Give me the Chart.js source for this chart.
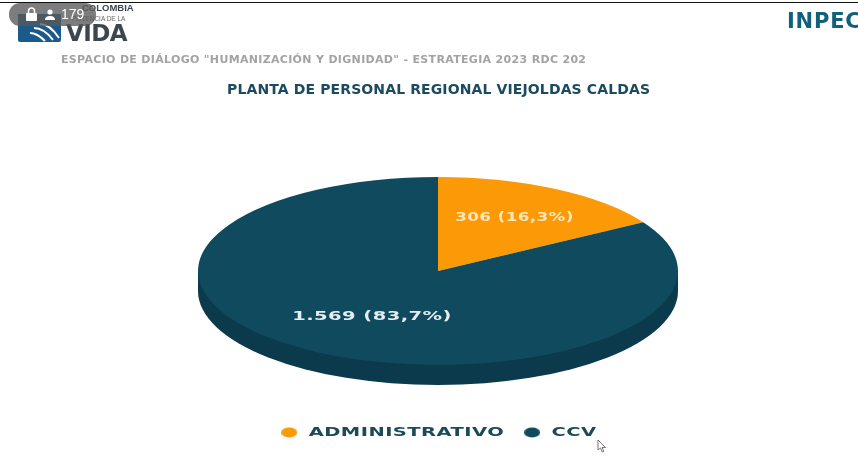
<!DOCTYPE html>
<html lang="es">
<head>
    <meta charset="UTF-8">
    <title>Planta de personal regional Viejo Caldas</title>
    <script src="https://cdn.jsdelivr.net/npm/chart.js"></script>
    <style>
        html, body { margin: 0; padding: 0; background: #fff; }
        #page { position: relative; width: 858px; height: 460px; overflow: hidden; font-family: "DejaVu Sans", sans-serif; }
        #page canvas { position: absolute; left: 0; top: 0; }
        .txt { position: absolute; white-space: nowrap; font-weight: bold; }
        #topline { position: absolute; left: 0; top: 2px; width: 858px; height: 1px; background: #111; }
        #pill { position: absolute; left: 9px; top: 3px; width: 87px; height: 23px; border-radius: 11px; background: rgba(88,88,88,0.78); }
    </style>
</head>
<body>
<div id="page">
    <canvas id="chart" width="858" height="460"></canvas>
    <div id="topline"></div>
    <svg style="position:absolute;left:18px;top:12px" width="43" height="30" viewBox="0 0 43 30">
        <path d="M0 2h43v26a2 2 0 0 1-2 2H2a2 2 0 0 1-2-2z" fill="#1d5a8c"/>
        <path d="M16 16c6 0 13 4 19 12M22 12c6 0 13 5 19 14M12 21c5 0 10 3 15 8" fill="none" stroke="#fff" stroke-width="2"/>
    </svg>
    <div class="txt" style="left:66px;top:20px;font:bold 23px 'DejaVu Sans';color:#3c4650;letter-spacing:-0.6px">VIDA</div>
    <div class="txt" style="left:82px;top:2px;font:bold 9.5px 'Liberation Sans';color:#3c4650">COLOMBIA</div>
    <div class="txt" style="left:72px;top:15px;font:normal 6.5px 'Liberation Sans';color:#666">POTENCIA DE LA</div>
    <div id="pill"></div>
    <svg style="position:absolute;left:25px;top:7px" width="32" height="15" viewBox="0 0 32 15">
        <rect x="1" y="6" width="11" height="8" rx="1" fill="#fff"/>
        <path d="M3.5 6V4a3 3 0 0 1 6 0v2" fill="none" stroke="#fff" stroke-width="1.5"/>
        <circle cx="25" cy="5" r="2.6" fill="#fff"/>
        <path d="M20 13c0-3 2-4 5-4s5 1 5 4z" fill="#fff"/>
    </svg>
    <div class="txt" style="left:61px;top:6px;font:normal 14px 'Liberation Sans';color:#fff">179</div>
    <div class="txt" style="left:61px;top:53px;font-size:11px;color:#a3a3a3;letter-spacing:0.32px">ESPACIO DE DIÁLOGO "HUMANIZACIÓN Y DIGNIDAD" - ESTRATEGIA 2023 RDC 202</div>
    <div class="txt" style="left:227px;top:81px;font-size:14px;color:#1c4a60;letter-spacing:0.12px">PLANTA DE PERSONAL REGIONAL VIEJOLDAS CALDAS</div>
    <div class="txt" style="left:787px;top:9px;font-size:21px;color:#12607a;letter-spacing:0.8px">INPEC</div>
    <svg style="position:absolute;left:597px;top:439px" width="10" height="14" viewBox="0 0 10 14">
        <path d="M1 1v10l2.500-2 1.700 4 1.600-.7-1.700-3.800H8.500z" fill="#fff" stroke="#666" stroke-width="0.9"/>
    </svg>
</div>

<script>
    const categories = ['ADMINISTRATIVO', 'CCV'];
    const values = [306, 1569];
    const valueLabels = ['306 (16,3%)', '1.569 (83,7%)'];
    const sliceColors = ['#fb9a06', '#0f4a5e'];
    const labelColors = ['#fde6c0', '#e4eef2'];
    const labelRadius = [0.65, 0.56];
    const labelStretch = [1.29, 1.5];

    // the pie is drawn flat and squashed into this ellipse
    const disc = { cx: 438, cy: 271, rx: 240, ry: 94, depth: 20, side: '#0a3a4b' };
    const legendStretch = 1.5;
    const canvasLetterSpacing = '0.3px';

    function ellipseMarker(color) {
        const c = document.createElement('canvas');
        c.width = 11;
        c.height = 11;
        const g = c.getContext('2d');
        g.fillStyle = color;
        g.beginPath();
        g.ellipse(5.5, 5.5, 5.4, 5, 0, 0, Math.PI * 2);
        g.fill();
        return c;
    }

    const squashPie = {
        id: 'squashPie',
        beforeLayout(chart) {
            chart.ctx.letterSpacing = canvasLetterSpacing;
        },
        afterLayout(chart) {
            // la leyenda del original esta estirada a lo ancho
            const legend = chart.legend;
            if (legend.stretched) return;
            legend.stretched = true;
            const drawLegend = legend.draw.bind(legend);
            legend.draw = () => {
                const ctx = chart.ctx;
                ctx.save();
                ctx.translate(disc.cx, 0);
                ctx.scale(legendStretch, 1);
                ctx.translate(-disc.cx, 0);
                drawLegend();
                ctx.restore();
            };
        },
        beforeDraw(chart) {
            chart.ctx.letterSpacing = canvasLetterSpacing;
        },
        beforeDatasetsDraw(chart) {
            const ctx = chart.ctx;
            const arc = chart.getDatasetMeta(0).data[0];
            // lado del disco
            ctx.fillStyle = disc.side;
            ctx.beginPath();
            ctx.ellipse(disc.cx, disc.cy + disc.depth, disc.rx, disc.ry, 0, 0, Math.PI);
            ctx.lineTo(disc.cx - disc.rx, disc.cy);
            ctx.lineTo(disc.cx + disc.rx, disc.cy);
            ctx.closePath();
            ctx.fill();

            ctx.save();
            ctx.translate(disc.cx, disc.cy);
            ctx.scale(disc.rx / arc.outerRadius, disc.ry / arc.outerRadius);
            ctx.translate(-arc.x, -arc.y);
        },
        afterDatasetsDraw(chart) {
            const ctx = chart.ctx;
            ctx.restore();

            // etiquetas sobre las porciones
            ctx.font = 'bold 13px "DejaVu Sans"';
            ctx.textAlign = 'center';
            ctx.textBaseline = 'middle';
            chart.getDatasetMeta(0).data.forEach((arc, i) => {
                const mid = (arc.startAngle + arc.endAngle) / 2;
                const x = disc.cx + Math.cos(mid) * disc.rx * labelRadius[i];
                const y = disc.cy + Math.sin(mid) * disc.ry * labelRadius[i];
                ctx.save();
                ctx.translate(x, y);
                ctx.scale(labelStretch[i], 1);
                ctx.fillStyle = labelColors[i];
                ctx.fillText(valueLabels[i], 0, 0);
                ctx.restore();
            });
        }
    };

    new Chart(document.getElementById('chart').getContext('2d'), {
        type: 'pie',
        data: {
            labels: categories,
            datasets: [{
                data: values,
                backgroundColor: sliceColors,
                borderWidth: 0
            }]
        },
        options: {
            responsive: false,
            animation: false,
            layout: { padding: { left: 18, top: 110, bottom: 11 } },
            plugins: {
                tooltip: { enabled: false },
                legend: {
                    position: 'bottom',
                    labels: {
                        usePointStyle: true,
                        color: '#1c4a58',
                        font: { family: '"DejaVu Sans"', size: 13, weight: 'bold' },
                        padding: 12,
                        generateLabels(chart) {
                            const items = Chart.overrides.pie.plugins.legend.labels.generateLabels(chart);
                            return items.map((item, i) => ({ ...item, pointStyle: ellipseMarker(sliceColors[i]), lineWidth: 0 }));
                        }
                    }
                }
            }
        },
        plugins: [squashPie]
    });
</script>
</body>
</html>
